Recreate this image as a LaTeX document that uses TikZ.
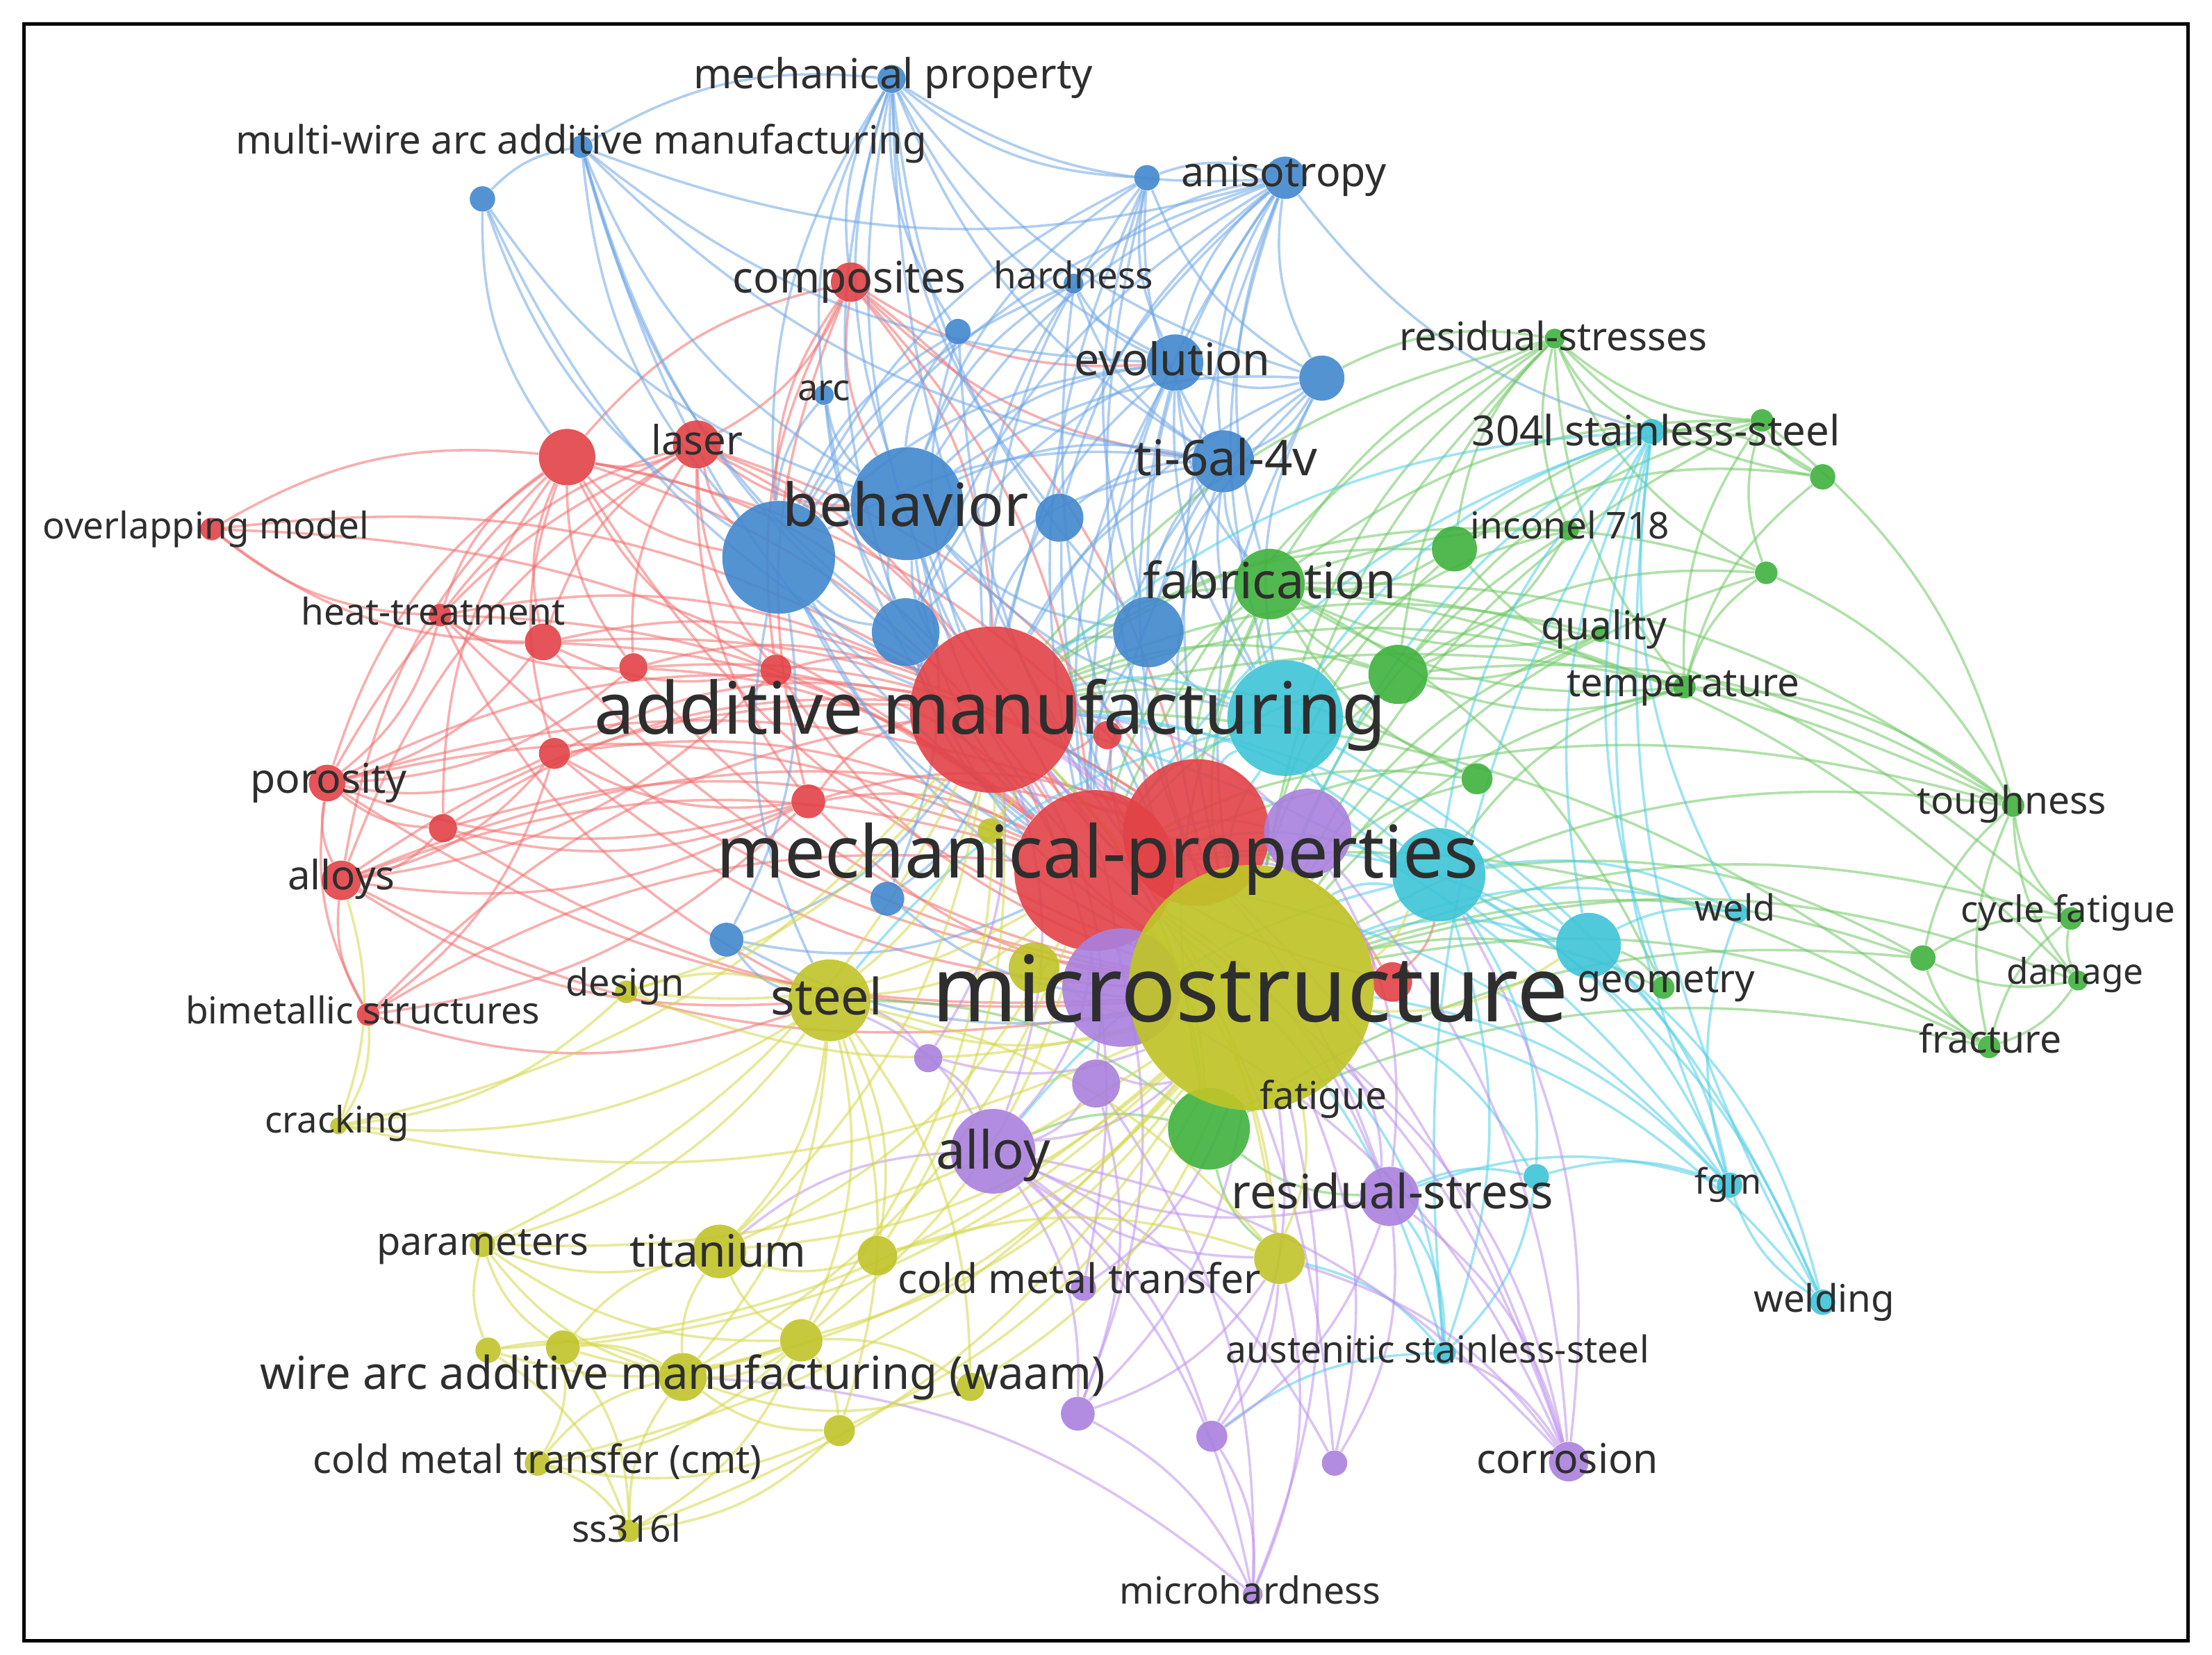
\documentclass[tikz,border=0pt]{standalone}
\usepackage{fontspec}
\setmainfont{Noto Sans}
\usepackage{graphicx}
\pgfdeclarelayer{background}
\pgfsetlayers{background,main}
\newlength\pxu \setlength\pxu{0.02cm}
\definecolor{cR}{RGB}{226,66,70}
\definecolor{cB}{RGB}{66,136,206}
\definecolor{cG}{RGB}{64,178,62}
\definecolor{cY}{RGB}{192,196,40}
\definecolor{cC}{RGB}{62,196,216}
\definecolor{cP}{RGB}{170,128,222}
\definecolor{eR}{RGB}{242,110,110}
\definecolor{eB}{RGB}{110,166,230}
\definecolor{eG}{RGB}{112,200,100}
\definecolor{eC}{RGB}{80,206,230}
\definecolor{eP}{RGB}{190,146,236}
\definecolor{eY}{RGB}{212,216,72}
\tikzset{
  kn/.style={circle, inner sep=0pt, draw=none, fill opacity=0.9},
  lbl/.style={inner sep=0pt, text=black!82},
  edgebase/.style={line width=1pt, draw opacity=0.55},
  er/.style={edgebase, draw=eR},
  eb/.style={edgebase, draw=eB},
  eg/.style={edgebase, draw=eG},
  ec/.style={edgebase, draw=eC},
  ep/.style={edgebase, draw=eP},
  ey/.style={edgebase, draw=eY}
}
\newcommand\kn[5]{\pgfmathsetmacro\kd{#5*0.04}\node[kn, fill=#4, minimum size=\kd cm] (#1) at (#2,#3) {};}
\newcommand\kl[5]{\node[lbl] (#1) at (#2,#3) {\resizebox{#4\pxu}{!}{\vphantom{Xg}#5}};}
\begin{document}
\begin{tikzpicture}[x=0.02cm, y=-0.02cm]
\useasboundingbox (0,0) rectangle (1568,1173);
% ---------- small / medium nodes ----------
% red
\kn{comp}{603}{200}{cR}{14}
\kn{laser}{494}{315}{cR}{17}
\kn{r1}{402}{324}{cR}{20}
\kn{ovm}{150}{375}{cR}{8}
\kn{heat}{312}{436}{cR}{8}
\kn{r2}{385}{455}{cR}{13}
\kn{r3}{449}{473}{cR}{10}
\kn{r4}{550}{475}{cR}{11}
\kn{r5}{393}{534}{cR}{11}
\kn{r6}{573}{568}{cR}{12}
\kn{poro}{232}{555}{cR}{13}
\kn{r7}{314}{587}{cR}{10}
\kn{alloys}{242}{624}{cR}{14}
\kn{bimet}{261}{719}{cR}{8}
\kn{r8}{987}{696}{cR}{14}
\kn{r9}{785}{521}{cR}{10}
% blue
\kn{b2}{642}{448}{cB}{24}
\kn{b3}{751}{367}{cB}{17}
\kn{b4}{814}{448}{cB}{25}
\kn{ti}{867}{327}{cB}{22}
\kn{evo}{833}{257}{cB}{20}
\kn{b5}{937}{268}{cB}{16}
\kn{aniso}{911}{126}{cB}{15}
\kn{b6}{813}{126}{cB}{9}
\kn{mprop}{632}{56}{cB}{10}
\kn{mwire}{412}{104}{cB}{8}
\kn{b7}{342}{141}{cB}{9}
\kn{hard}{761}{201}{cB}{7}
\kn{b8}{679}{235}{cB}{9}
\kn{arc}{584}{280}{cB}{7}
\kn{b9}{629}{637}{cB}{12}
\kn{b10}{515}{666}{cB}{12}
% green
\kn{fab}{900}{414}{cG}{25}
\kn{g1}{991}{478}{cG}{21}
\kn{g2}{1031}{389}{cG}{16}
\kn{inco}{1112}{376}{cG}{7}
\kn{resid}{1102}{240}{cG}{7}
\kn{g3}{1249}{298}{cG}{8}
\kn{g4}{1292}{338}{cG}{9}
\kn{g5}{1252}{406}{cG}{8}
\kn{qual}{1134}{449}{cG}{6}
\kn{g6}{1047}{552}{cG}{11}
\kn{tough}{1427}{571}{cG}{8}
\kn{cycle}{1468}{651}{cG}{8}
\kn{g7}{1363}{679}{cG}{9}
\kn{damage}{1473}{695}{cG}{7}
\kn{fract}{1410}{742}{cG}{8}
\kn{geom}{1179}{700}{cG}{8}
\kn{temp}{1194}{487}{cG}{8}
\kn{fat}{857}{800}{cG}{29}
% cyan
\kn{s304}{1171}{306}{cC}{9}
\kn{weld}{1232}{647}{cC}{7}
\kn{fgm}{1226}{840}{cC}{9}
\kn{welding}{1292}{923}{cC}{9}
\kn{c4}{1089}{834}{cC}{9}
\kn{aust}{1024}{959}{cC}{8}
\kn{c3}{1126}{670}{cC}{23}
% purple
\kn{alloy}{704}{816}{cP}{30}
\kn{rs}{985}{848}{cP}{21}
\kn{p3}{777}{768}{cP}{17}
\kn{p4}{658}{750}{cP}{10}
\kn{p5}{768}{913}{cP}{9}
\kn{p6}{764}{1002}{cP}{12}
\kn{p7}{859}{1018}{cP}{11}
\kn{p8}{946}{1037}{cP}{9}
\kn{corr}{1112}{1036}{cP}{14}
\kn{micro}{888}{1130}{cP}{7}
% yellow
\kn{steel}{588}{709}{cY}{29}
\kn{design}{444}{703}{cY}{8}
\kn{crack}{240}{798}{cY}{6}
\kn{titan}{510}{887}{cY}{19}
\kn{param}{342}{882}{cY}{9}
\kn{y1}{622}{890}{cY}{14}
\kn{cmt}{907}{892}{cY}{18}
\kn{y2}{484}{976}{cY}{17}
\kn{y3}{568}{950}{cY}{15}
\kn{y4}{399}{955}{cY}{12}
\kn{y5}{346}{957}{cY}{9}
\kn{y6}{688}{983}{cY}{10}
\kn{y7}{595}{1014}{cY}{11}
\kn{cmtc}{381}{1037}{cY}{9}
\kn{ss}{446}{1085}{cY}{8}
\kn{y8}{702}{589}{cY}{9}
\kn{y9}{733}{686}{cY}{18}
% ---------- large nodes ----------
\kn{b1}{552}{395}{cB}{40}
\kn{bh}{643}{357}{cB}{40}
\kn{am}{704}{503}{cR}{59}
\kn{c1}{911}{509}{cC}{41}
\kn{c2}{1020}{620}{cC}{33}
\kn{mp2}{848}{590}{cR}{52}
\kn{p1}{927}{590}{cP}{31}
\kn{mp}{776}{617}{cR}{57}
\kn{p2}{795}{700}{cP}{42}
\node[kn, fill=cY, fill opacity=0.92, minimum size=3.48cm] (ms) at (887,700) {};
% ---------- labels ----------
\kl{l-ms}{886}{708}{451}{microstructure}
\kl{l-mp}{778}{609}{540}{mechanical-properties}
\kl{l-am}{702}{507}{561}{additive manufacturing}
\kl{l-bh}{642}{362}{174}{behavior}
\kl{l-fab}{900}{415}{179}{fabrication}
\kl{l-ti}{869}{328}{130}{ti-6al-4v}
\kl{l-evo}{831}{258}{139}{evolution}
\kl{l-comp}{602}{200}{165}{composites}
\kl{l-laser}{494}{315}{65}{laser}
\kl{l-arc}{584}{278}{37}{arc}
\kl{l-hard}{761}{198}{113}{hardness}
\kl{l-aniso}{910}{125}{145}{anisotropy}
\kl{l-mprop}{633}{55}{283}{mechanical property}
\kl{l-mwire}{412}{102}{490}{multi-wire arc additive manufacturing}
\kl{l-resid}{1101}{241}{218}{residual-stresses}
\kl{l-s304}{1174}{308}{261}{304l stainless-steel}
\kl{l-inco}{1113}{375}{141}{inconel 718}
\kl{l-qual}{1137}{446}{89}{quality}
\kl{l-temp}{1193}{487}{165}{temperature}
\kl{l-ovm}{146}{375}{231}{overlapping model}
\kl{l-heat}{307}{436}{187}{heat-treatment}
\kl{l-poro}{233}{555}{111}{porosity}
\kl{l-alloys}{242}{623}{76}{alloys}
\kl{l-bimet}{257}{719}{251}{bimetallic structures}
\kl{l-design}{443}{699}{84}{design}
\kl{l-steel}{586}{710}{79}{steel}
\kl{l-crack}{239}{796}{102}{cracking}
\kl{l-tough}{1426}{570}{134}{toughness}
\kl{l-cycle}{1466}{647}{152}{cycle fatigue}
\kl{l-damage}{1471}{691}{97}{damage}
\kl{l-fract}{1411}{739}{101}{fracture}
\kl{l-weld}{1230}{646}{57}{weld}
\kl{l-geom}{1181}{697}{126}{geometry}
\kl{l-fat}{938}{779}{90}{fatigue}
\kl{l-alloy}{704}{819}{81}{alloy}
\kl{l-rs}{987}{848}{228}{residual-stress}
\kl{l-fgm}{1225}{840}{47}{fgm}
\kl{l-welding}{1293}{923}{100}{welding}
\kl{l-param}{342}{883}{150}{parameters}
\kl{l-titan}{509}{890}{125}{titanium}
\kl{l-cmt}{765}{909}{257}{cold metal transfer}
\kl{l-waam}{484}{976}{599}{wire arc additive manufacturing (waam)}
\kl{l-aust}{1019}{959}{300}{austenitic stainless-steel}
\kl{l-cmtc}{381}{1037}{318}{cold metal transfer (cmt)}
\kl{l-ss}{444}{1086}{77}{ss316l}
\kl{l-corr}{1111}{1037}{129}{corrosion}
\kl{l-micro}{886}{1130}{185}{microhardness}
% ---------- edges ----------
\begin{pgfonlayer}{background}
\fill[white] (0,0) rectangle (1568,1173);
\foreach \a/\b in {am/comp, am/laser, am/r1, am/ovm, am/heat, am/r2, am/r3, am/r4, am/r5, am/r6, am/poro, am/r7, am/alloys, am/bimet, am/r9, am/r8,
 mp/comp, mp/laser, mp/r1, mp/heat, mp/r2, mp/r3, mp/r5, mp/r6, mp/poro, mp/r7, mp/alloys, mp/bimet, mp/ovm, mp/r4,
 mp2/laser, mp2/r1, mp2/r2, mp2/poro, mp2/alloys, mp2/comp, mp2/r6, mp2/r3,
 r1/ovm, r1/laser, r1/poro, r1/alloys, r1/r2, r1/heat, r1/r5, r1/r7, r1/r3, r1/r4,
 laser/r2, laser/r3, laser/r4, laser/poro, laser/alloys, laser/comp, laser/r6, laser/heat,
 comp/r1, comp/r4, comp/b1, comp/bh, comp/ti, comp/r6, comp/evo,
 poro/alloys, poro/r7, poro/r5, poro/heat, poro/bimet, poro/r2, poro/r3, poro/r6,
 alloys/r7, alloys/r5, alloys/bimet, alloys/r4, alloys/r6, alloys/steel,
 bimet/r5, bimet/steel, bimet/r6, heat/r2, heat/r3, ovm/heat, ovm/r2, r2/r4, r5/r6, r7/r6,
 r8/ms, r8/mp2, r8/c2, r9/ms, am/ms, am/mp, am/mp2, mp/ms, mp2/ms,
 r1/b1, laser/b1, laser/bh, r3/ms, r4/ms, r6/ms, r2/ms, poro/ms, alloys/ms, r5/ms, heat/ms, r7/ms, heat/steel, r1/ms}
 \draw[er] (\a) to[bend right=18] (\b);
\foreach \a/\b in {mprop/bh, mprop/b1, mprop/b2, mprop/b3, mprop/evo, mprop/ti, mprop/aniso, mprop/comp, mprop/b8, mprop/mwire, mprop/am, mprop/b5, mprop/arc, mprop/b4, mprop/ms, mprop/b6,
 mwire/b7, mwire/bh, mwire/b1, mwire/evo, mwire/aniso, mwire/ti, mwire/am, mwire/b2, mwire/mp,
 b7/b1, b7/r1, b7/bh, b7/am,
 aniso/bh, aniso/b1, aniso/b2, aniso/b3, aniso/b4, aniso/ti, aniso/evo, aniso/b5, aniso/b6, aniso/hard, aniso/c1, aniso/mp, aniso/ms, aniso/s304, aniso/am, aniso/fab,
 b6/bh, b6/ti, b6/evo, b6/b4, b6/b1, b6/am, b6/b5, b6/ms, b6/mp,
 evo/bh, evo/b1, evo/b2, evo/ti, evo/am, evo/mp, evo/ms, evo/c1, evo/b5, evo/fab, evo/b4,
 ti/bh, ti/b1, ti/b2, ti/am, ti/mp, ti/ms, ti/c1, ti/fab, ti/b5, ti/b3, ti/b4,
 b5/bh, b5/am, b5/ms, b5/c1, b5/b4, b5/mp,
 hard/b1, hard/bh, hard/ti, hard/evo, hard/am, hard/ms,
 b8/b1, b8/bh, b8/am, b8/ms, arc/b1, arc/bh, arc/am, arc/mp,
 bh/am, bh/mp, bh/ms, bh/c1, bh/b2, bh/b4, bh/mp2, b1/am, b1/mp, b1/ms, b1/b2, b1/steel,
 b2/am, b2/ms, b2/mp, b3/am, b3/ms, b4/am, b4/ms, b4/mp, b4/c1,
 b9/ms, b9/am, b9/bh, b10/ms, b10/am, b10/b1, b10/steel, b10/mp}
 \draw[eb] (\a) to[bend right=18] (\b);
\foreach \a/\b in {resid/g3, resid/g4, resid/s304, resid/g2, resid/fab, resid/g1, resid/temp, resid/c1, resid/am, resid/ms, resid/inco, resid/b5, resid/g5, resid/mp,
 g3/g4, g3/g5, g3/temp, g3/fab, g3/g2, g3/g1, g3/ms, g4/s304, g4/temp, g4/g2,
 tough/g7, tough/cycle, tough/damage, tough/fract, tough/g1, tough/fab, tough/ms, tough/am, tough/mp, tough/g5, tough/g3, tough/temp,
 cycle/damage, cycle/fract, cycle/g7, cycle/ms, cycle/fab, g7/fract, g7/damage, g7/ms, g7/c2, g7/fat, fract/damage, fract/ms, fract/am, fract/fat, fract/mp, damage/ms, damage/fab,
 fab/g1, fab/g2, fab/ms, fab/mp, fab/am, fab/c1, fab/g6, fab/temp, fab/qual, fab/mp2, fab/fat,
 g1/ms, g1/am, g1/mp, g1/temp, g1/qual, g1/inco, g2/ms, g2/am, g2/temp, inco/ms, inco/am, inco/c1,
 g5/ms, g5/fab, g5/temp, g5/g1, qual/ms, qual/am, temp/ms, temp/am, temp/c2,
 g6/ms, g6/am, g6/mp, geom/ms, geom/c3, geom/fab, fat/ms, fat/mp, fat/am, fat/alloy, fat/steel, fat/rs, fat/cmt}
 \draw[eg] (\a) to[bend right=18] (\b);
\foreach \a/\b in {s304/c1, s304/c2, s304/c3, s304/fgm, s304/weld, s304/geom, s304/welding, s304/aust, s304/ms, s304/am, s304/mp,
 fgm/c2, fgm/c3, fgm/ms, fgm/welding, fgm/c4, fgm/rs, fgm/am, fgm/mp,
 welding/c2, welding/c3, welding/c1, welding/ms,
 aust/rs, aust/c4, aust/c2, aust/ms, aust/p7, aust/cmt, aust/mp,
 weld/c2, weld/c3, weld/ms, weld/fgm,
 c1/ms, c1/am, c1/mp, c1/mp2, c1/c2, c2/ms, c2/mp, c2/am, c2/c3, c3/ms, c3/am, c3/mp, c4/ms, c4/rs, c4/c2, c1/steel, c2/alloy}
 \draw[ec] (\a) to[bend right=18] (\b);
\foreach \a/\b in {corr/rs, corr/ms, corr/alloy, corr/p1, corr/p2, corr/aust, corr/am, corr/mp, corr/cmt, corr/c2,
 micro/p6, micro/p7, micro/cmt, micro/alloy, micro/ms, micro/y2, micro/p3,
 p6/alloy, p6/ms, p6/cmt, p6/p3, p6/mp, p7/alloy, p7/rs, p7/ms, p7/cmt, p8/alloy, p8/rs, p8/ms, p8/am,
 alloy/ms, alloy/mp, alloy/am, alloy/steel, alloy/titan, alloy/p3, alloy/p4, alloy/cmt, alloy/rs,
 rs/ms, rs/mp, rs/am, rs/p1, p1/ms, p1/am, p1/mp, p2/ms, p2/am, p3/ms, p3/am, p4/ms, p4/am, p4/steel, p5/alloy, p5/ms, p5/am}
 \draw[ep] (\a) to[bend right=18] (\b);
\foreach \a/\b in {crack/steel, crack/ms, crack/design, crack/alloys, crack/bimet, crack/am,
 param/y4, param/y5, param/titan, param/ms, param/steel, param/y2, param/y3, param/am,
 titan/ms, titan/steel, titan/mp, titan/am, titan/y2, titan/y3, titan/y4, titan/y1,
 y2/y4, y2/y5, y2/y3, y2/cmtc, y2/ss, y2/ms, y2/steel, y2/y6, y2/y7, y2/mp,
 ss/y4, ss/y5, ss/cmtc, ss/y7, ss/ms, ss/y3,
 cmtc/y3, cmtc/y4, cmtc/y7, cmtc/ms, y4/ms, y4/y3, y5/y3, y5/ms,
 y7/ms, y7/steel, y7/y3, y6/ms, y6/steel, y6/y3, y3/ms, y3/steel, y3/am, y3/mp,
 cmt/ms, cmt/mp, cmt/am, cmt/steel, cmt/y1, y1/ms, y1/steel, y1/am,
 steel/ms, steel/mp, steel/am, steel/design, design/ms, design/am, design/mp,
 ms/c2, ms/c3, y8/am, y9/ms}
 \draw[ey] (\a) to[bend right=18] (\b);
\end{pgfonlayer}
% ---------- frame ----------
\draw[line width=2.2\pxu] (17,17) rectangle (1551,1163);
\end{tikzpicture}
\end{document}
